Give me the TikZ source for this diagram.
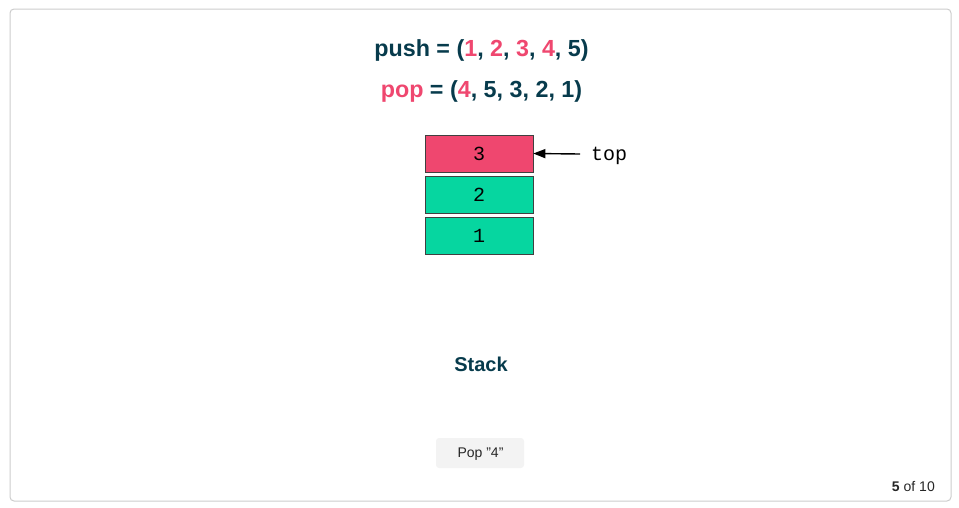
\documentclass[tikz,border=0pt]{standalone}
\usepackage{fontspec}
\setmainfont{Liberation Sans}
\setmonofont{Liberation Mono}
\usetikzlibrary{arrows.meta}
\definecolor{dk}{HTML}{073B4C}
\definecolor{pk}{HTML}{EF476F}
\definecolor{gr}{HTML}{06D6A0}
\definecolor{frame}{HTML}{CCCCCC}
\definecolor{btn}{HTML}{F3F3F3}
\tikzset{
  cell/.style={draw=black!75, line width=0.6pt, minimum width=108pt, minimum height=37pt, inner sep=0pt, font=\ttfamily\fontsize{20}{24}\selectfont},
  headline/.style={font=\bfseries\fontsize{23.3}{27}\selectfont, text=dk, inner sep=0pt},
}
\begin{document}
\begin{tikzpicture}[x=1pt,y=-1pt]
\useasboundingbox (0,0) rectangle (959,507);
\draw[frame, line width=1pt, rounded corners=4pt] (10,9) rectangle (951,501);
\node[headline] (push) at (481.5,50) {push = (\textcolor{pk}{1}, \textcolor{pk}{2}, \textcolor{pk}{3}, \textcolor{pk}{4}, 5)};
\node[headline] (pop) at (481.5,91) {\textcolor{pk}{pop} = (\textcolor{pk}{4}, 5, 3, 2, 1)};
\node[cell, fill=pk] (c3) at (479,153.5) {3};
\node[cell, fill=gr] (c2) at (479,194.5) {2};
\node[cell, fill=gr] (c1) at (479,235.5) {1};
\node[font=\ttfamily\fontsize{20}{24}\selectfont, anchor=west, inner sep=0pt] (top) at (591,156) {top};
\coordinate (ts) at (580,154);
\draw[-{Triangle[length=12pt,width=9pt]}, line width=1.4pt] (ts) -- (c3.east);
\node[font=\bfseries\fontsize{20}{24}\selectfont, text=dk] (stack) at (481,364) {Stack};
\node[fill=btn, rounded corners=3pt, minimum width=88pt, minimum height=30pt, inner sep=0pt] (btn) at (480,453) {};
\node[font=\fontsize{14}{17}\selectfont, text=black!85, inner sep=0pt] (btntext) at (480.5,454.5) {Pop \symbol{34}4\symbol{34}};
\node[anchor=east, font=\fontsize{14}{17}\selectfont, text=black!85, inner sep=0pt] (pg) at (935,486) {\textbf{5} of 10};
\end{tikzpicture}
\end{document}
